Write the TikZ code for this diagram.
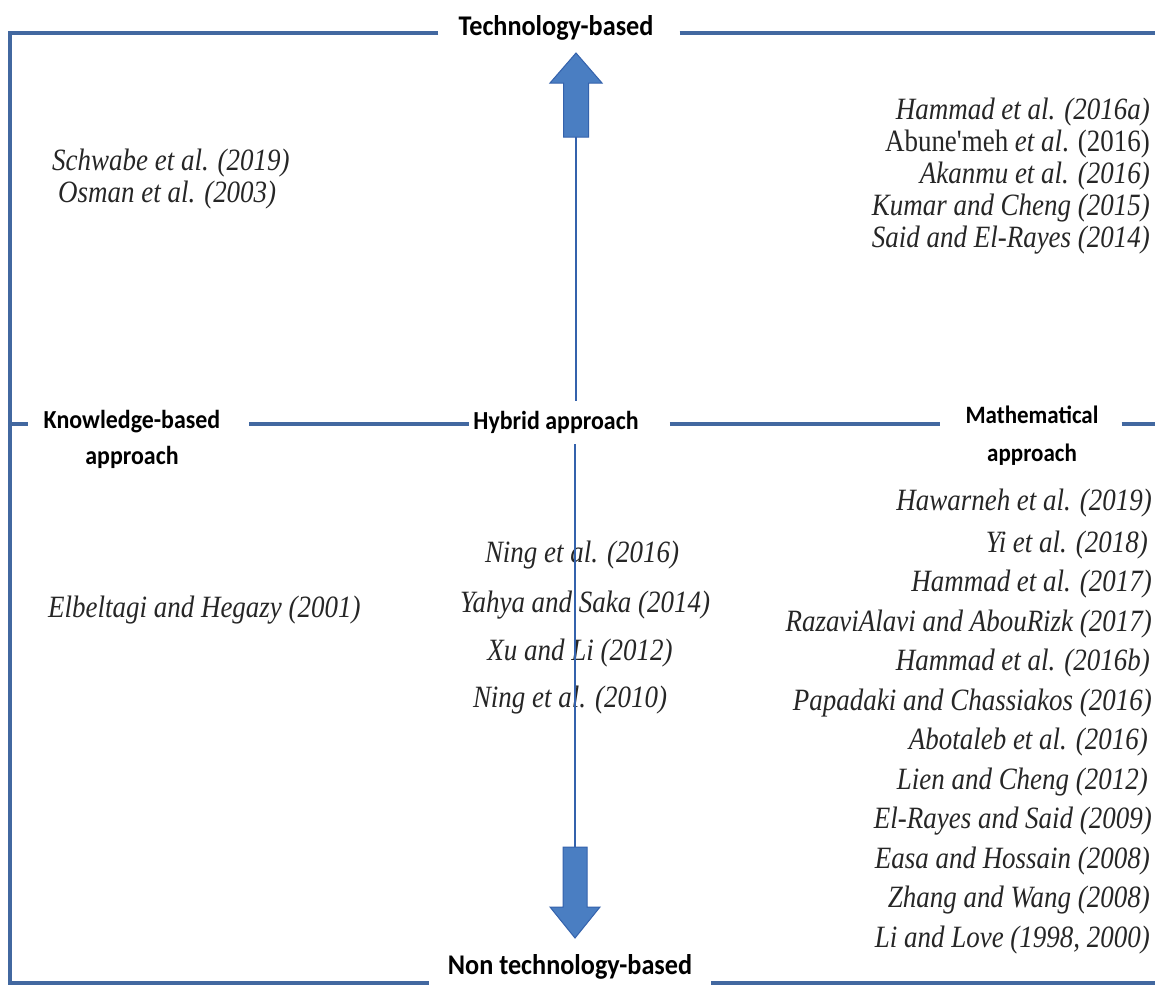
\documentclass[tikz,border=0pt]{standalone}
\usepackage{fontspec}
\setmainfont{Liberation Serif}
\newfontfamily\citefont{Liberation Serif}[FakeStretch=0.87]
\newfontfamily\labelfont{Carlito}[FakeStretch=0.92]
\usetikzlibrary{positioning}

\definecolor{frameblue}{RGB}{66,104,160}
\definecolor{axisblue}{RGB}{52,98,172}
\definecolor{arrowblue}{RGB}{74,126,194}

\tikzset{
 frame/.style={frameblue,line width=3.2pt},
 axisline/.style={axisblue,line width=2.4pt},
 blockarrow/.style={fill=arrowblue,draw=axisblue,line width=1pt,line join=miter},
 toplab/.style={font=\labelfont\bfseries\fontsize{28.5}{30}\selectfont,inner sep=0pt},
 midlab/.style={font=\labelfont\bfseries\fontsize{26}{36}\selectfont,align=center,inner sep=0pt},
 mathlab/.style={font=\labelfont\bfseries\fontsize{25}{38}\selectfont,align=center,inner sep=0pt},
 cite/.style={font=\citefont\itshape\fontsize{31}{33}\selectfont,inner sep=0pt,text=black!85},
}

\begin{document}
\begin{tikzpicture}[x=1pt,y=-1pt]
 \useasboundingbox[fill=white] (0,0) rectangle (1155,985);
 % corners of the frame
 \coordinate (tl) at (10,33);
 \coordinate (tr) at (1155,33);
 \coordinate (bl) at (10,983);
 \coordinate (br) at (1155,983);
 \coordinate (ml) at (10,424);
 \coordinate (mr) at (1155,424);
 % axis labels
 \node[toplab] (tech) at (556,28) {Technology-based};
 \node[toplab] (nontech) at (570,967) {Non technology-based};
 \node[midlab] (know) at (132,439) {Knowledge-based\\approach};
 \node[midlab] (hyb) at (556,422) {Hybrid approach};
 \node[mathlab] (math) at (1032,436) {Mathematical\\approach};
 % technology-based, knowledge side
 \node[cite,anchor=west] (schwabe) at (52,163) {Schwabe et al. (2019)};
 \node[cite,anchor=west] (osman) at (58,195) {Osman et al. (2003)};
 % technology-based, mathematical side
 \node[cite,anchor=east] (hammada) at (1150,112) {Hammad et al. (2016a)};
 \node[cite,anchor=east] (abunemeh) at (1150,144) {\upshape Abune'meh \textit{et al}. (2016)};
 \node[cite,anchor=east] (akanmu) at (1150,176) {Akanmu et al. (2016)};
 \node[cite,anchor=east] (kumar) at (1150,208) {Kumar and Cheng (2015)};
 \node[cite,anchor=east] (said) at (1150,240) {Said and El-Rayes (2014)};
 % non technology-based, knowledge side
 \node[cite,anchor=west] (elbeltagi) at (48,610) {Elbeltagi and Hegazy (2001)};
 % non technology-based, hybrid
 \node[cite] (ninga) at (582,555) {Ning et al. (2016)};
 \node[cite] (yahya) at (585,605) {Yahya and Saka (2014)};
 \node[cite] (xu) at (580,653) {Xu and Li (2012)};
 \node[cite] (ningb) at (570,700) {Ning et al. (2010)};
 % non technology-based, mathematical side
 \node[cite,anchor=east] (hawarneh) at (1152,503) {Hawarneh et al. (2019)};
 \node[cite,anchor=east] (yi) at (1148,545) {Yi et al. (2018)};
 \node[cite,anchor=east] (hammadc) at (1152,584) {Hammad et al. (2017)};
 \node[cite,anchor=east] (razavi) at (1152,624) {RazaviAlavi and AbouRizk (2017)};
 \node[cite,anchor=east] (hammadb) at (1150,663) {Hammad et al. (2016b)};
 \node[cite,anchor=east] (papadaki) at (1152,703) {Papadaki and Chassiakos (2016)};
 \node[cite,anchor=east] (abotaleb) at (1148,742) {Abotaleb et al. (2016)};
 \node[cite,anchor=east] (lien) at (1148,782) {Lien and Cheng (2012)};
 \node[cite,anchor=east] (elrayes) at (1152,821) {El-Rayes and Said (2009)};
 \node[cite,anchor=east] (easa) at (1150,861) {Easa and Hossain (2008)};
 \node[cite,anchor=east] (zhang) at (1150,900) {Zhang and Wang (2008)};
 \node[cite,anchor=east] (lilove) at (1150,940) {Li and Love (1998, 2000)};
 % frame
 \draw[frame] ([xshift=-20pt]tech.west |- tl) -- (tl) -- (bl) -- ([xshift=-19pt]nontech.west |- bl);
 \draw[frame] ([xshift=26pt]tech.east |- tr) -- (tr);
 \draw[frame] ([xshift=19pt]nontech.east |- br) -- (br);
 \draw[frame] (ml) -- ++(18,0);
 \draw[frame] ([xshift=29pt]know.east |- ml) -- ([xshift=-4pt]hyb.west |- ml);
 \draw[frame] ([xshift=31pt]hyb.east |- ml) -- ([xshift=-25pt]math.west |- ml);
 \draw[frame] ([xshift=23pt]math.east |- mr) -- (mr);
 % vertical axis
 \coordinate (upbase) at (576,137);
 \coordinate (downbase) at (575,847);
 \draw[axisline] (upbase) -- ([yshift=10pt]hyb.north -| upbase);
 \draw[axisline] ([yshift=-11pt]hyb.south -| downbase) -- (downbase);
 \draw[blockarrow,shift={(upbase)}] (-12.5,0) -- (-12.5,-54) -- (-26,-54) -- (0,-84) -- (26,-54) -- (12.5,-54) -- (12.5,0) -- cycle;
 \draw[blockarrow,shift={(downbase)}] (-12,0) -- (-12,60) -- (-25,60) -- (0,91) -- (25,60) -- (12,60) -- (12,0) -- cycle;
\end{tikzpicture}
\end{document}
